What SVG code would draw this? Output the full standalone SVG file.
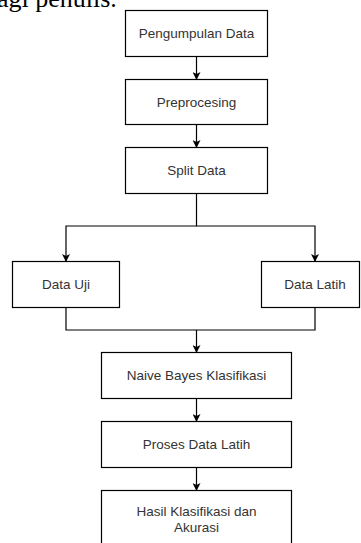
<svg xmlns="http://www.w3.org/2000/svg" width="361" height="543" viewBox="0 0 361 543">
<defs>
<style>
.box{fill:#fff;stroke:#000;stroke-width:1.2}
.lbl{font-family:"Liberation Sans",Arial,sans-serif;font-size:13.5px;fill:#333;text-anchor:middle}
.edge{fill:none;stroke:#000;stroke-width:1.2}
</style>
<marker id="arr" viewBox="0 0 8 8" refX="7.5" refY="4" markerWidth="8" markerHeight="8" markerUnits="userSpaceOnUse" orient="auto">
<path d="M0,0 L8,4 L0,8 L2,4 z" fill="#000"/>
</marker>
</defs>
<rect width="361" height="543" fill="#fff"/>
<text x="-3" y="7" font-family="'Liberation Serif','Times New Roman',serif" font-size="26" fill="#000">agi penulis.</text>
<g id="connectors">
<path class="edge" d="M196.5,56.5 V79.5" marker-end="url(#arr)"/>
<path class="edge" d="M196.5,124.5 V147.5" marker-end="url(#arr)"/>
<path class="edge" d="M196.5,193.5 V226 H66 V261.5" marker-end="url(#arr)"/>
<path class="edge" d="M196.5,226 H315 V261.5" marker-end="url(#arr)"/>
<path class="edge" d="M66,307.5 V330 H315 V307.5"/>
<path class="edge" d="M196.5,330 V352.5" marker-end="url(#arr)"/>
<path class="edge" d="M196.5,398.5 V421.5" marker-end="url(#arr)"/>
<path class="edge" d="M196.5,467.5 V490.5" marker-end="url(#arr)"/>
</g>
<g id="pengumpulan">
<rect class="box" x="125.5" y="10.5" width="142" height="46"/>
<text class="lbl" x="196.5" y="38">Pengumpulan Data</text>
</g>
<g id="preprocesing">
<rect class="box" x="125.5" y="79.5" width="142" height="45"/>
<text class="lbl" x="196.5" y="106.5">Preprocesing</text>
</g>
<g id="split">
<rect class="box" x="125.5" y="147.5" width="142" height="46"/>
<text class="lbl" x="196.5" y="175">Split Data</text>
</g>
<g id="uji">
<rect class="box" x="12.5" y="261.5" width="107" height="46"/>
<text class="lbl" x="66" y="289">Data Uji</text>
</g>
<g id="latih">
<rect class="box" x="261.5" y="261.5" width="98" height="46"/>
<text class="lbl" x="315" y="289">Data Latih</text>
</g>
<g id="naive">
<rect class="box" x="101.5" y="352.5" width="190" height="46"/>
<text class="lbl" x="196.5" y="380">Naive Bayes Klasifikasi</text>
</g>
<g id="proses">
<rect class="box" x="101.5" y="421.5" width="190" height="46"/>
<text class="lbl" x="196.5" y="449">Proses Data Latih</text>
</g>
<g id="hasil">
<rect class="box" x="101.5" y="490.5" width="190" height="60"/>
<text class="lbl" x="196.5" y="515.5">Hasil Klasifikasi dan</text>
<text class="lbl" x="196.5" y="532">Akurasi</text>
</g>
</svg>
